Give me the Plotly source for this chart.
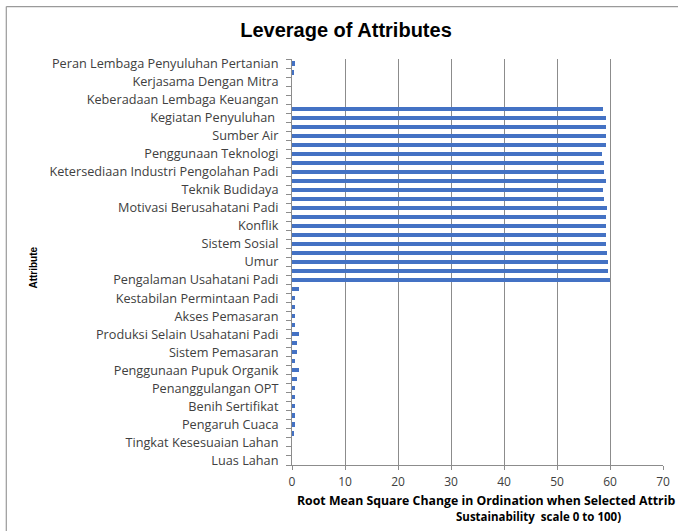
import plotly.graph_objects as go

# Labels shown on every other category (top to bottom)
labels = [
    "Peran Lembaga Penyuluhan Pertanian",
    "Kerjasama Dengan Mitra",
    "Keberadaan Lembaga Keuangan",
    "Kegiatan Penyuluhan ",
    "Sumber Air",
    "Penggunaan Teknologi",
    "Ketersediaan Industri Pengolahan Padi",
    "Teknik Budidaya",
    "Motivasi Berusahatani Padi",
    "Konflik",
    "Sistem Sosial",
    "Umur",
    "Pengalaman Usahatani Padi",
    "Kestabilan Permintaan Padi",
    "Akses Pemasaran",
    "Produksi Selain Usahatani Padi",
    "Sistem Pemasaran",
    "Penggunaan Pupuk Organik",
    "Penanggulangan OPT",
    "Benih Sertifikat",
    "Pengaruh Cuaca",
    "Tingkat Kesesuaian Lahan",
    "Luas Lahan",
]

# Bar values for the 45 category rows (top to bottom)
values = [
    0.6, 0.3, 0.0, 0.0, 0.0,
    58.7, 59.3, 59.3, 59.3, 59.3,
    58.5, 58.9, 58.9, 59.3, 58.7,
    58.9, 59.5, 59.3, 59.3, 59.3,
    59.3, 59.5, 59.7, 59.7, 60.0,
    1.4, 0.6, 0.6, 0.6, 0.6,
    1.4, 1.0, 1.0, 0.6, 1.25,
    1.0, 0.6, 0.6, 0.6, 0.6,
    0.6, 0.45, 0.0, 0.0, 0.0,
]

x_ticks = [0, 10, 20, 30, 40, 50, 60, 70]

rows = list(range(len(values)))
label_rows = rows[::2]

W, H = 678, 531
left, right, top, bottom = 291.7, 662.7, 58.5, 465

fig = go.Figure(go.Bar(
    x=values, y=rows, orientation="h",
    marker=dict(color="#4472C4", line=dict(width=0)),
    width=0.47,
))

font_lbl = "Open Sans, Liberation Sans, sans-serif"

fig.update_layout(
    width=W, height=H, autosize=False,
    paper_bgcolor="white", plot_bgcolor="white",
    margin=dict(l=left, r=W - right, t=top, b=H - bottom, pad=0, autoexpand=False),
    showlegend=False,
    bargap=0,
    title=dict(text="<b>Leverage of Attributes</b>",
               font=dict(family="Liberation Sans, Arial, sans-serif", size=20, color="#000000"),
               x=346 / W, xanchor="center", y=1 - 30 / H, yanchor="middle", automargin=False),
    xaxis=dict(range=[0, 70], tickvals=x_ticks, ticktext=[str(v) for v in x_ticks],
               automargin=False,
               showgrid=True, gridcolor="#8c8c8c", gridwidth=1.3,
               showline=True, linecolor="#8c8c8c", linewidth=1,
               ticks="outside", ticklen=4, tickcolor="#8c8c8c",
               ticklabelstandoff=2,
               tickfont=dict(family=font_lbl, size=12, color="#404040"),
               zeroline=False, fixedrange=True),
    yaxis=dict(range=[44.5, -0.5], tickmode="array", tickvals=label_rows, ticktext=labels,
               automargin=False,
               showgrid=False, zeroline=False,
               showline=True, linecolor="#8c8c8c", linewidth=1,
               ticks="outside", ticklen=10, tickcolor="rgba(0,0,0,0)",
               minor=dict(tickmode="array", tickvals=[r + 0.5 for r in range(-1, 45)],
                          ticks="outside", ticklen=5, tickcolor="#8c8c8c", showgrid=False),
               tickfont=dict(family=font_lbl, size=12.7, color="#404040"),
               fixedrange=True),
)

# outer chart border (top and left edges visible in the cropped original)
fig.add_shape(type="line", xref="paper", yref="paper",
              x0=(6 - left) / (right - left), x1=(W + 5 - left) / (right - left),
              y0=(bottom - 6) / (bottom - top), y1=(bottom - 6) / (bottom - top),
              line=dict(color="#9a9a9a", width=1.2), layer="below")
fig.add_shape(type="line", xref="paper", yref="paper",
              x0=(6 - left) / (right - left), x1=(6 - left) / (right - left),
              y0=(bottom - 6) / (bottom - top), y1=(bottom - (H + 5)) / (bottom - top),
              line=dict(color="#9a9a9a", width=1.2), layer="below")

# y-axis title
fig.add_annotation(text="<b>Attribute</b>", xref="paper", yref="paper",
                   x=(33 - left) / (right - left), y=(bottom - 267) / (bottom - top),
                   xanchor="center", yanchor="middle", textangle=-90, showarrow=False,
                   font=dict(family="Liberation Sans, Arial, sans-serif", size=10, color="#000000"))

# x-axis title (two lines, as cropped in the original)
fig.add_annotation(text="<b>Root Mean Square Change in Ordination when Selected Attrib</b>",
                   xref="paper", yref="paper", borderpad=0,
                   x=(296 - left) / (right - left), y=(bottom - 501) / (bottom - top),
                   xanchor="left", yanchor="middle", showarrow=False,
                   font=dict(family="Open Sans, Liberation Sans, sans-serif", size=12.3, color="#000000"))
fig.add_annotation(text="<b>Sustainability  scale 0 to 100)</b>",
                   xref="paper", yref="paper", borderpad=0,
                   x=(538 - left) / (right - left), y=(bottom - 516.5) / (bottom - top),
                   xanchor="center", yanchor="middle", showarrow=False,
                   font=dict(family="Open Sans, Liberation Sans, sans-serif", size=11.5, color="#000000"))

fig.write_html("out.html", config={"displayModeBar": False},
               post_script="document.body.style.margin='0';document.body.style.padding='0';")
